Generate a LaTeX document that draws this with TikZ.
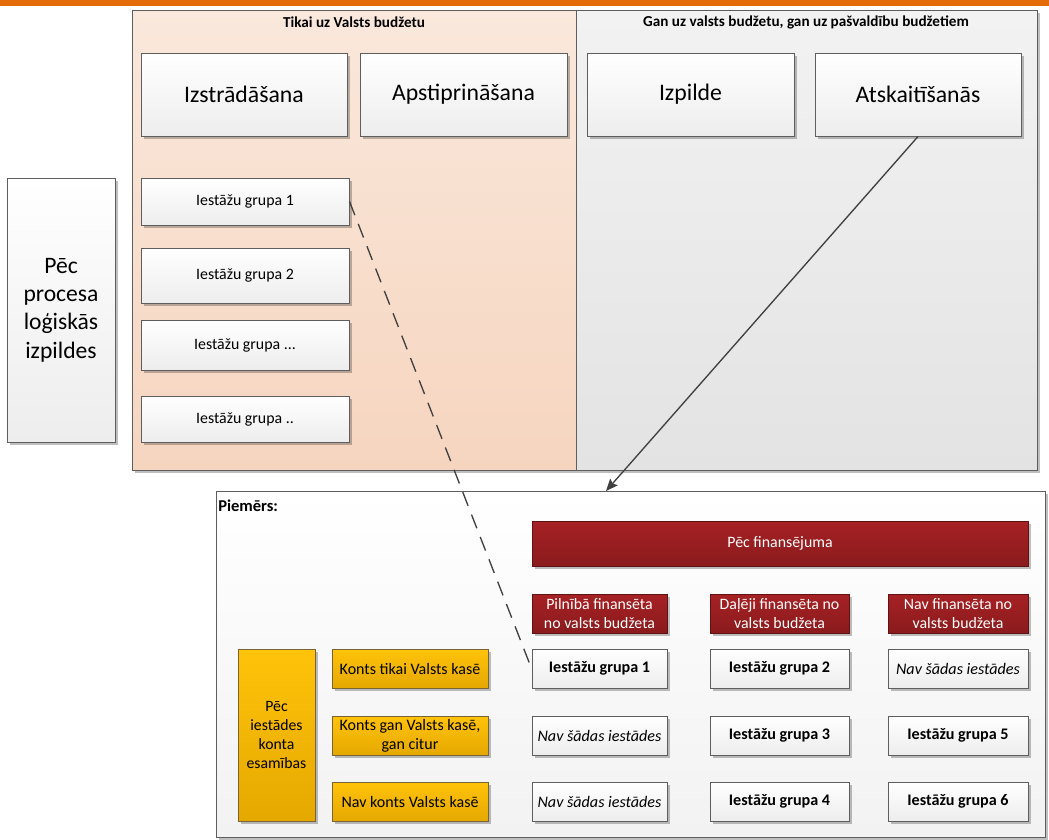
\documentclass[tikz,border=0pt]{standalone}
\usepackage{fontspec}
\setmainfont{Carlito}
\usetikzlibrary{shadows,arrows.meta}
\definecolor{barorange}{HTML}{E36C09}
\definecolor{bordergrey}{HTML}{5E5E5E}
\definecolor{peachtop}{HTML}{FAE8DC}
\definecolor{peachbot}{HTML}{F6D5BF}
\definecolor{greytop}{HTML}{F2F2F2}
\definecolor{greybot}{HTML}{E3E3E3}
\definecolor{boxbot}{HTML}{EDEDED}
\definecolor{redtop}{HTML}{A62124}
\definecolor{redbot}{HTML}{8A1B1D}
\definecolor{yeltop}{HTML}{FFC30A}
\definecolor{yelbot}{HTML}{E5A800}
\definecolor{yelborder}{HTML}{7A6436}
\definecolor{connector}{HTML}{404040}
\newcommand{\mybox}[7]{\node[#6, minimum width={(#4-#2)*0.75pt}, minimum height={(#5-#3)*0.75pt}] (#1) at ({(#2+#4)/2},{(#3+#5)/2}) {#7};}
\begin{document}
\begin{tikzpicture}[x=0.75pt,y=-0.75pt,
  base/.style={draw=bordergrey, line width=0.75pt, inner sep=0pt, align=center,
    drop shadow={shadow xshift=2pt, shadow yshift=-2pt, opacity=0.25, fill=black}},
  panel/.style={base},
  whitebox/.style={base, top color=white, bottom color=boxbot},
  bigtext/.style={font=\fontsize{17.8}{21.5}\selectfont},
  smalltext/.style={font=\fontsize{11.9}{14}\selectfont},
  redbox/.style={base, draw=redbot!70!black, top color=redtop, bottom color=redbot, text=white, font=\fontsize{11.9}{14}\selectfont},
  yelbox/.style={base, draw=yelborder, top color=yeltop, bottom color=yelbot, font=\fontsize{12}{14}\selectfont},
  cell/.style={whitebox, font=\fontsize{12.1}{14}\selectfont},
  title/.style={font=\bfseries\fontsize{11.4}{13.5}\selectfont, inner sep=0pt},
  conn/.style={draw=connector, line width=1pt}
]
\useasboundingbox (0,0) rectangle (1049,839);
% top bar
\fill[barorange] (0,0) rectangle (1049,6);
% panels
\mybox{lp}{132}{10}{576}{470}{panel, top color=peachtop, bottom color=peachbot}{}
\mybox{rp}{576}{10}{1037}{470}{panel, top color=greytop, bottom color=greybot}{}
\node[title] (lpt) at (354,22) {Tikai uz Valsts budžetu};
\node[title] (rpt) at (806,22) {Gan uz valsts budžetu, gan uz pašvaldību budžetiem};
% top process boxes
\mybox{izs}{141}{53}{347}{136}{whitebox, bigtext}{Izstrādāšana}
\mybox{aps}{360}{53}{567}{136}{whitebox, bigtext}{Apstiprināšana}
\mybox{izp}{587}{53}{794}{136}{whitebox, bigtext}{Izpilde}
\mybox{ats}{815}{53}{1021}{136}{whitebox, bigtext}{Atskaitīšanās}
% group boxes
\mybox{g1}{141}{178}{349}{225}{whitebox, smalltext}{Iestāžu grupa 1}
\mybox{g2}{141}{248}{349}{303}{whitebox, smalltext}{Iestāžu grupa 2}
\mybox{g3}{141}{320}{349}{370}{whitebox, smalltext}{Iestāžu grupa ...}
\mybox{g4}{141}{396}{349}{442}{whitebox, smalltext}{Iestāžu grupa ..}
% left tall box
\mybox{proc}{7}{178}{115}{442}{whitebox, font=\fontsize{17.7}{21.3}\selectfont}{Pēc\\procesa\\loģiskās\\izpildes}
% bottom panel
\mybox{bp}{216}{491}{1045}{837}{panel, top color=white, bottom color=greytop}{}
\node[font=\bfseries\fontsize{12.4}{14}\selectfont, anchor=west, inner sep=0pt] (pie) at (218,506) {Piemērs:};
% red headers
\mybox{fin}{532}{521}{1028}{566}{redbox}{Pēc finansējuma}
\mybox{h1}{532}{594}{667}{633}{redbox}{Pilnībā finansēta\\no valsts budžeta}
\mybox{h2}{710}{594}{849}{633}{redbox}{Daļēji finansēta no\\valsts budžeta}
\mybox{h3}{888}{594}{1028}{633}{redbox}{Nav finansēta no\\valsts budžeta}
% yellow
\mybox{kon}{238}{649}{315}{821}{yelbox, font=\fontsize{11.8}{14.3}\selectfont}{\rule{0pt}{6pt}Pēc\\iestādes\\konta\\esamības}
\mybox{y1}{332}{649}{488}{688}{yelbox}{Konts tikai Valsts kasē}
\mybox{y2}{332}{716}{488}{755}{yelbox}{Konts gan Valsts kasē,\\gan citur}
\mybox{y3}{332}{782}{488}{821}{yelbox}{Nav konts Valsts kasē}
% grid cells
\mybox{c11}{532}{649}{667}{688}{cell}{\textbf{Iestāžu grupa 1}}
\mybox{c12}{710}{649}{849}{688}{cell}{\textbf{Iestāžu grupa 2}}
\mybox{c13}{888}{649}{1028}{688}{cell}{\textit{Nav šādas iestādes}}
\mybox{c21}{532}{716}{667}{755}{cell}{\textit{Nav šādas iestādes}}
\mybox{c22}{710}{716}{849}{755}{cell}{\textbf{Iestāžu grupa 3}}
\mybox{c23}{888}{716}{1028}{755}{cell}{\textbf{Iestāžu grupa 5}}
\mybox{c31}{532}{782}{667}{821}{cell}{\textit{Nav šādas iestādes}}
\mybox{c32}{710}{782}{849}{821}{cell}{\textbf{Iestāžu grupa 4}}
\mybox{c33}{888}{782}{1028}{821}{cell}{\textbf{Iestāžu grupa 6}}
% connectors
\coordinate (arrEnd) at (606,491);
\draw[conn, -{Stealth[length=9pt,width=7.5pt,inset=1.5pt]}] (ats.south) -- (arrEnd);
\draw[conn, dash pattern=on 11pt off 7pt] (g1.east) -- (c11.west);
\end{tikzpicture}
\end{document}
